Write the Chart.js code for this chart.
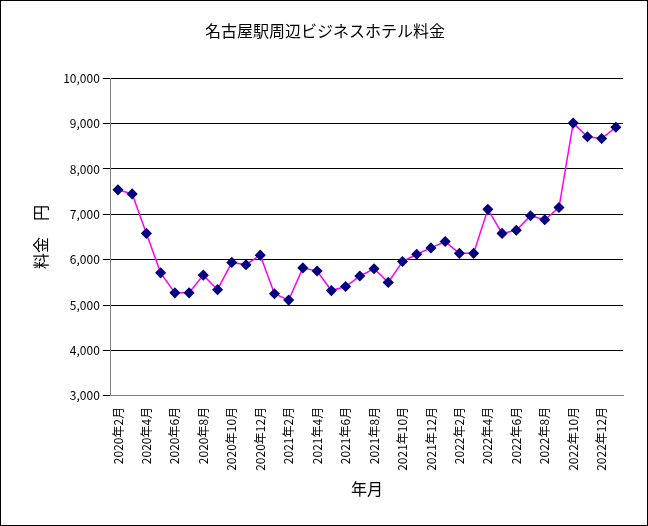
<!DOCTYPE html>
<html><head><meta charset="utf-8">
<script src="https://cdn.jsdelivr.net/npm/chart.js@4"></script>
<style>html,body{margin:0;padding:0;background:#fff}
#w{width:646px;height:524px;border:1px solid #000;position:relative}
</style></head><body><div id="w"><canvas id="c"></canvas></div>
<script>
const months=[];
for(let y=2020;y<=2023;y++)for(let m=1;m<=12;m++){if((y===2020&&m<2)||(y===2023&&m>1))continue;months.push(y+'年'+m+'月');}
const prices=[7540,7450,6580,5710,5270,5270,5660,5340,5940,5890,6100,5250,5110,5820,5750,5320,5410,5640,5800,5500,5960,6120,6260,6400,6140,6140,7110,6580,6650,6970,6880,7150,9010,8710,8670,8920];
const F='"Noto Sans CJK JP", sans-serif';
new Chart(document.getElementById('c'),{type:'line',
data:{labels:months,datasets:[{data:prices,borderColor:'#FF00FF',borderWidth:1.5,tension:0,
pointStyle:'rectRot',pointRadius:4.5,pointBackgroundColor:'#000080',pointBorderColor:'#000080'}]},
options:{responsive:true,maintainAspectRatio:false,animation:false,
layout:{padding:{left:26,right:24,top:10,bottom:22}},
plugins:{legend:{display:false},tooltip:{enabled:false},
title:{display:true,text:'名古屋駅周辺ビジネスホテル料金',color:'#000',font:{family:F,size:16,weight:'normal'},padding:{top:10,bottom:38}}},
scales:{
x:{offset:true,grid:{display:false},border:{color:'#808080'},
ticks:{autoSkip:false,maxRotation:90,minRotation:90,color:'#000',font:{family:F,size:12},
callback:function(v,i){return i%2===0?this.getLabelForValue(v):'';}},
title:{display:true,text:'年月',color:'#000',font:{family:F,size:16},padding:{top:6}}},
y:{min:3000,max:10000,grid:{color:'#000',drawTicks:true},border:{color:'#808080'},
ticks:{stepSize:1000,color:'#000',font:{family:F,size:12},callback:v=>v.toLocaleString('en-US')},
title:{display:true,text:'料金　円',color:'#000',font:{family:F,size:16},padding:{bottom:10}}}}}});
</script></body></html>
